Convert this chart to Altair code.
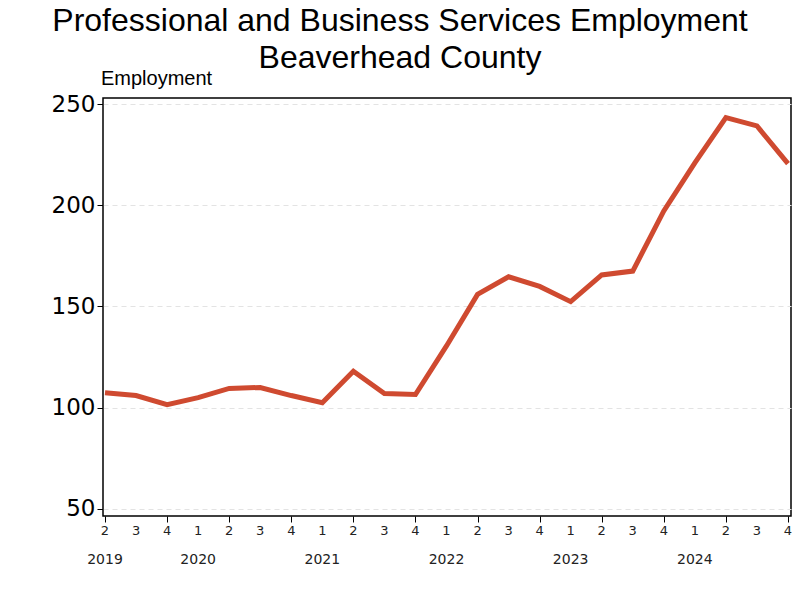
import altair as alt
import pandas as pd

quarters = [2, 3, 4, 1, 2, 3, 4, 1, 2, 3, 4, 1, 2, 3, 4, 1, 2, 3, 4, 1, 2, 3, 4]
employment = [107.4, 106.0, 101.5, 105.0, 109.5, 110.0, 106.0, 102.5, 118.0, 107.0, 106.5,
              130.5, 156.0, 164.7, 159.9, 152.4, 165.6, 167.5, 197.2, 221.0, 243.3, 239.2, 220.6]
year_labels = ["2019", "2020", "2021", "2022", "2023", "2024"]
year_pos = [0, 3, 7, 11, 15, 19]
y_ticks = [50, 100, 150, 200, 250]

df = pd.DataFrame({"idx": list(range(len(quarters))), "q": [str(q) for q in quarters], "emp": employment})
years = pd.DataFrame({"idx": year_pos, "year": year_labels})

W, H = 688, 418

x_scale = alt.Scale(domain=[-0.0644, 22.097], nice=False, zero=False)
y_scale = alt.Scale(domain=[46.5, 253], nice=False, zero=False)

line = alt.Chart(df).mark_line(color="#CF4A30", strokeWidth=5, strokeJoin="miter").encode(
    x=alt.X("idx:Q", scale=x_scale,
            axis=alt.Axis(values=list(range(len(quarters))), labels=False,
                          title=None, grid=False, tickSize=6, tickColor="black", domain=False)),
    y=alt.Y("emp:Q", scale=y_scale,
            axis=alt.Axis(values=y_ticks, title=None, grid=True, gridDash=[5, 4], gridColor="#e3e3e3",
                          tickSize=6, tickColor="black", domain=False,
                          labelFont="DejaVu Sans", labelFontSize=23, labelColor="black",
                          labelPadding=2, labelOverlap=False)),
)

q_text = alt.Chart(df).mark_text(font="DejaVu Sans", fontSize=13, color="#222", baseline="middle").encode(
    x=alt.X("idx:Q", scale=x_scale),
    text="q:N",
    y=alt.value(H + 15),
)

year_text = alt.Chart(years).mark_text(font="DejaVu Sans", fontSize=14, color="#222", baseline="middle").encode(
    x=alt.X("idx:Q", scale=x_scale),
    text="year:N",
    y=alt.value(H + 44),
)

ylab = alt.Chart(pd.DataFrame({"t": ["Employment"]})).mark_text(
    font="Liberation Sans", fontSize=20, color="black", align="left", baseline="middle"
).encode(x=alt.value(-2), y=alt.value(-19), text="t:N")

chart = alt.layer(line, q_text, year_text, ylab).properties(
    width=W, height=H,
    autosize=alt.AutoSizeParams(type="none"),
    padding={"left": 95, "top": 90, "right": 1, "bottom": 70},
    title=alt.TitleParams(text=["Professional and Business Services Employment", "Beaverhead County"],
                          font="Liberation Sans", fontSize=32, fontWeight="normal", color="black",
                          anchor="middle", dx=-47, offset=-6, lineHeight=37),
).configure_view(stroke="black", strokeWidth=1.5)

chart.save("out.html", embed_options={"renderer": "svg", "actions": False})
